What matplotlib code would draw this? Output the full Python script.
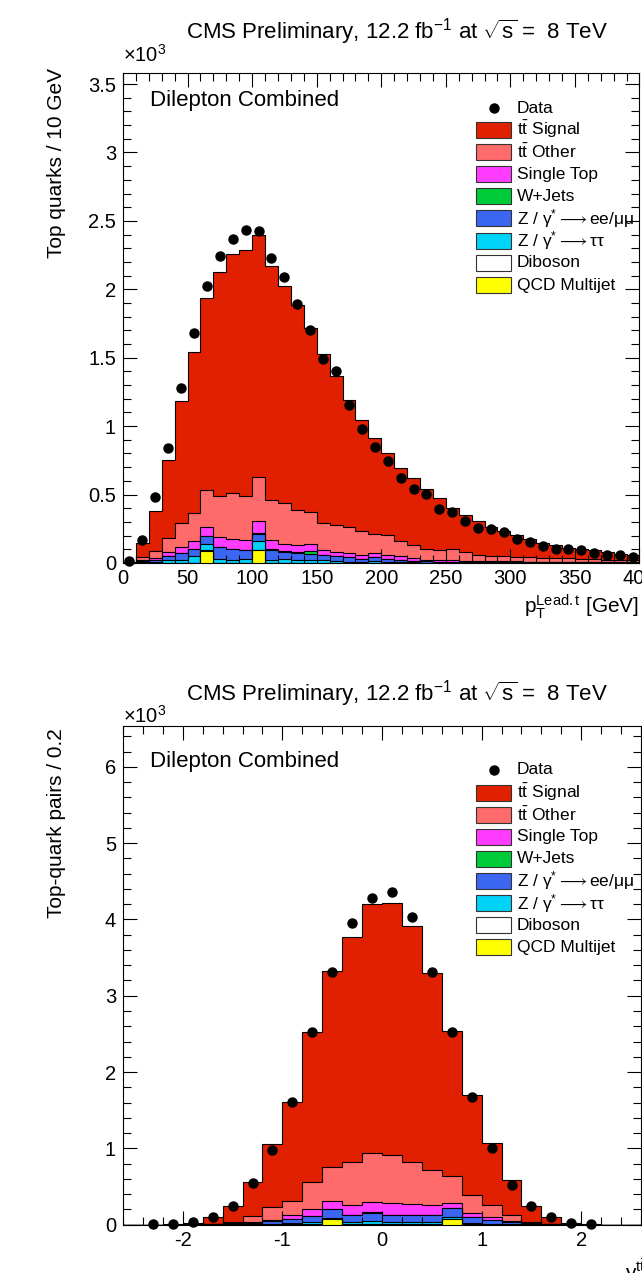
import numpy as np
import matplotlib
matplotlib.use('Agg')
import matplotlib.pyplot as plt
from matplotlib.patches import Rectangle
from matplotlib.ticker import MultipleLocator, FuncFormatter

plt.rcParams['font.family'] = ['Liberation Sans', 'DejaVu Sans']
plt.rcParams['mathtext.fontset'] = 'custom'
plt.rcParams['mathtext.rm'] = 'Liberation Sans'
plt.rcParams['mathtext.it'] = 'Liberation Sans:italic'
plt.rcParams['mathtext.bf'] = 'Liberation Sans:bold'
plt.rcParams['axes.unicode_minus'] = False

# ---- leading top pT, 10 GeV bins, values in units of 10^3 ----
pt_edges = np.arange(0, 410, 10)
pt_data = [0.017, 0.164, 0.480, 0.840, 1.280, 1.680, 2.024, 2.244, 2.366, 2.434,
           2.427, 2.232, 2.088, 1.890, 1.700, 1.490, 1.406, 1.152, 0.978, 0.848,
           0.743, 0.621, 0.543, 0.506, 0.394, 0.374, 0.303, 0.257, 0.245, 0.227,
           0.176, 0.154, 0.122, 0.103, 0.103, 0.093, 0.073, 0.059, 0.059, 0.044]
pt_signal = [0.003, 0.107, 0.287, 0.570, 0.896, 1.176, 1.404, 1.635, 1.748, 1.796,
             1.770, 1.709, 1.587, 1.496, 1.348, 1.237, 1.083, 0.926, 0.814, 0.701,
             0.604, 0.538, 0.487, 0.435, 0.382, 0.296, 0.274, 0.242, 0.216, 0.178,
             0.161, 0.134, 0.110, 0.098, 0.078, 0.076, 0.063, 0.054, 0.039, 0.034]
pt_ttother = [0.001, 0.015, 0.055, 0.102, 0.178, 0.206, 0.270, 0.297, 0.338, 0.325,
              0.323, 0.292, 0.295, 0.254, 0.237, 0.194, 0.197, 0.194, 0.174, 0.141,
              0.145, 0.109, 0.099, 0.081, 0.071, 0.081, 0.060, 0.046, 0.034, 0.042,
              0.032, 0.033, 0.029, 0.026, 0.025, 0.021, 0.021, 0.017, 0.017, 0.016]
pt_singletop = [0.000, 0.010, 0.013, 0.026, 0.043, 0.055, 0.064, 0.077, 0.070, 0.069,
                0.091, 0.067, 0.055, 0.055, 0.047, 0.039, 0.035, 0.028, 0.028, 0.030,
                0.028, 0.030, 0.021, 0.011, 0.015, 0.014, 0.011, 0.009, 0.007, 0.007,
                0.006, 0.005, 0.005, 0.005, 0.004, 0.004, 0.004, 0.003, 0.003, 0.003]
pt_wjets = [0.000, 0.000, 0.000, 0.000, 0.001, 0.001, 0.002, 0.002, 0.002, 0.002,
            0.002, 0.002, 0.002, 0.002, 0.020, 0.001, 0.001, 0.001, 0.001, 0.001,
            0.001, 0.000, 0.000, 0.000, 0.000, 0.000, 0.000, 0.000, 0.000, 0.000,
            0.000, 0.000, 0.000, 0.000, 0.000, 0.000, 0.000, 0.000, 0.000, 0.000]
pt_zll = [0.001, 0.010, 0.015, 0.030, 0.050, 0.055, 0.060, 0.085, 0.080, 0.065,
          0.056, 0.080, 0.055, 0.055, 0.050, 0.040, 0.035, 0.030, 0.020, 0.025,
          0.020, 0.015, 0.010, 0.008, 0.006, 0.005, 0.004, 0.004, 0.004, 0.003,
          0.003, 0.003, 0.003, 0.002, 0.002, 0.002, 0.002, 0.002, 0.002, 0.001]
pt_ztautau = [0.000, 0.003, 0.005, 0.020, 0.017, 0.045, 0.045, 0.025, 0.020, 0.025,
              0.060, 0.015, 0.025, 0.017, 0.015, 0.015, 0.010, 0.008, 0.006, 0.015,
              0.005, 0.004, 0.003, 0.002, 0.002, 0.001, 0.001, 0.001, 0.001, 0.001,
              0.001, 0.001, 0.001, 0.001, 0.001, 0.001, 0.001, 0.001, 0.001, 0.001]
pt_diboson = [0.000, 0.002, 0.002, 0.002, 0.002, 0.003, 0.003, 0.003, 0.003, 0.003,
              0.003, 0.003, 0.003, 0.003, 0.003, 0.003, 0.002, 0.002, 0.002, 0.002,
              0.002, 0.001, 0.001, 0.001, 0.001, 0.001, 0.001, 0.001, 0.001, 0.001,
              0.001, 0.001, 0.001, 0.001, 0.001, 0.001, 0.001, 0.001, 0.001, 0.001]
pt_qcd = [0.000, 0.000, 0.000, 0.000, 0.000, 0.000, 0.088, 0.000, 0.000, 0.000,
          0.095, 0.000, 0.000, 0.000, 0.000, 0.000, 0.000, 0.000, 0.000, 0.000,
          0.000, 0.000, 0.000, 0.000, 0.000, 0.000, 0.000, 0.000, 0.000, 0.000,
          0.000, 0.000, 0.000, 0.000, 0.000, 0.000, 0.000, 0.000, 0.000, 0.000]

# ---- ttbar rapidity, 0.2 bins, values in units of 10^3 ----
y_edges = np.round(np.arange(-2.6, 2.61, 0.2), 1)
nan = np.nan
y_data = [nan, 0.005, 0.005, 0.030, 0.100, 0.250, 0.540, 0.980, 1.610, 2.520,
          3.310, 3.950, 4.280, 4.360, 4.030, 3.310, 2.530, 1.670, 1.000, 0.520,
          0.240, 0.100, 0.020, 0.005, nan, nan]
y_signal = [0.000, 0.001, 0.002, 0.017, 0.092, 0.210, 0.450, 0.820, 1.300, 1.960,
            2.570, 2.950, 3.260, 3.300, 3.090, 2.590, 1.910, 1.320, 0.820, 0.460,
            0.210, 0.090, 0.017, 0.002, 0.001, 0.000]
y_ttother = [0.000, 0.000, 0.001, 0.002, 0.004, 0.020, 0.075, 0.165, 0.190, 0.355,
             0.440, 0.570, 0.650, 0.625, 0.550, 0.460, 0.345, 0.225, 0.150, 0.070,
             0.020, 0.005, 0.003, 0.001, 0.000, 0.000]
y_singletop = [0.000, 0.000, 0.000, 0.001, 0.002, 0.010, 0.011, 0.017, 0.047, 0.093,
               0.107, 0.122, 0.132, 0.162, 0.149, 0.122, 0.072, 0.058, 0.040, 0.020,
               0.010, 0.002, 0.001, 0.000, 0.000, 0.000]
y_wjets = [0.000, 0.000, 0.000, 0.000, 0.000, 0.000, 0.000, 0.005, 0.003, 0.002,
           0.002, 0.002, 0.002, 0.002, 0.002, 0.002, 0.002, 0.002, 0.001, 0.000,
           0.000, 0.000, 0.000, 0.000, 0.000, 0.000]
y_zll = [0.000, 0.000, 0.000, 0.000, 0.002, 0.008, 0.020, 0.035, 0.050, 0.080,
         0.110, 0.095, 0.110, 0.085, 0.088, 0.095, 0.110, 0.075, 0.050, 0.025,
         0.008, 0.003, 0.000, 0.000, 0.000, 0.000]
y_ztautau = [0.000, 0.000, 0.000, 0.000, 0.000, 0.002, 0.004, 0.008, 0.020, 0.030,
             0.015, 0.030, 0.045, 0.035, 0.030, 0.030, 0.025, 0.020, 0.010, 0.005,
             0.002, 0.000, 0.000, 0.000, 0.000, 0.000]
y_diboson = [0.000, 0.000, 0.000, 0.000, 0.000, 0.000, 0.001, 0.001, 0.002, 0.002,
             0.003, 0.003, 0.003, 0.003, 0.003, 0.003, 0.003, 0.002, 0.001, 0.001,
             0.000, 0.000, 0.000, 0.000, 0.000, 0.000]
y_qcd = [0.000, 0.000, 0.000, 0.000, 0.000, 0.000, 0.000, 0.000, 0.000, 0.000,
         0.075, 0.000, 0.000, 0.000, 0.000, 0.000, 0.075, 0.000, 0.000, 0.000,
         0.000, 0.000, 0.000, 0.000, 0.000, 0.000]

labels = ['$\\mathrm{t\\bar{t}}$ Signal', '$\\mathrm{t\\bar{t}}$ Other', 'Single Top',
          'W+Jets', 'Z / γ$^{*}\\longrightarrow$ee/μμ', 'Z / γ$^{*}\\longrightarrow$ττ',
          'Diboson', 'QCD Multijet']
colors = ['#e02000', '#ff6a6a', '#ff3cff', '#00cc3a', '#3a66f2', '#00d2f8', 'white', '#ffff00']

title = 'CMS Preliminary, 12.2 fb$^{-1}$ at $\\sqrt{\\mathrm{s}}$ =  8 TeV'


def draw_stack(ax, edges, comps):
    # cumulative from the bottom of the stack (QCD) up to the signal
    stack = np.cumsum(np.array(comps[::-1]), axis=0)[::-1]
    for vals, col in zip(stack, colors):
        ax.stairs(vals, edges, baseline=0, fill=True, facecolor=col,
                  edgecolor='black', linewidth=0.8)


def draw_legend(ax, first_px, sig_px, step_px):
    fig = ax.figure
    h_px = ax.get_position().height * fig.get_figheight() * fig.dpi
    w_px = ax.get_position().width * fig.get_figwidth() * fig.dpi
    bx = (476 - 123) / w_px
    bw = 35 / w_px
    bh = 16 / h_px
    tx = (517 - 123) / w_px
    yd = 1 - first_px / h_px
    ax.plot([bx + bw / 2], [yd], 'o', color='black', ms=6.5,
            transform=ax.transAxes, clip_on=False)
    ax.text(tx, yd, 'Data', transform=ax.transAxes, va='center', fontsize=12.5)
    for i, (lab, col) in enumerate(zip(labels, colors)):
        yc = 1 - (sig_px + i * step_px) / h_px
        ax.add_patch(Rectangle((bx, yc - bh / 2), bw, bh, transform=ax.transAxes,
                               facecolor=col, edgecolor='#333333', linewidth=0.8,
                               clip_on=False))
        ax.text(tx, yc, lab, transform=ax.transAxes, va='center', fontsize=12.5)


def style(ax, xmaj, xmin, ymaj, ymin):
    ax.xaxis.set_major_locator(MultipleLocator(xmaj))
    ax.xaxis.set_minor_locator(MultipleLocator(xmin))
    ax.yaxis.set_major_locator(MultipleLocator(ymaj))
    ax.yaxis.set_minor_locator(MultipleLocator(ymin))
    fmt = FuncFormatter(lambda v, p: f'{v:g}')
    ax.xaxis.set_major_formatter(fmt)
    ax.yaxis.set_major_formatter(fmt)
    ax.tick_params(which='both', direction='in', top=True, right=True,
                   labelsize=14.5, width=0.8)
    ax.tick_params(which='major', length=10)
    ax.tick_params(which='minor', length=5.5)
    ax.tick_params(axis='y', pad=5)
    ax.tick_params(axis='x', pad=4.5)
    for s in ax.spines.values():
        s.set_linewidth(0.8)


fig = plt.figure(figsize=(6.42, 12.73), dpi=100)

# ---------- top panel ----------
ax1 = fig.add_axes([0.1916, 0.5578, 0.8045, 0.3851])
draw_stack(ax1, pt_edges, [pt_signal, pt_ttother, pt_singletop, pt_wjets,
                           pt_zll, pt_ztautau, pt_diboson, pt_qcd])
pt_centers = (pt_edges[:-1] + pt_edges[1:]) / 2
ax1.plot(pt_centers, pt_data, 'o', color='black', ms=6.5, clip_on=False, zorder=5)
ax1.set_xlim(0, 400)
ax1.set_ylim(0, 3.583)
style(ax1, 50, 10, 0.5, 0.1)
ax1.set_ylabel('Top quarks / 10 GeV', fontsize=15, loc='top')
ax1.yaxis.set_label_coords(-0.111, 1.0096)
ax1.set_xlabel('$\\mathrm{p}_{\\mathrm{T}}^{\\mathrm{Lead.t}}$ [GeV]', fontsize=15, loc='right')
ax1.xaxis.set_label_coords(1.0, -0.059)
ax1.text(0.5305, 1.069, title, transform=ax1.transAxes, ha='center', va='baseline', fontsize=16)
ax1.text(0.0, 1.022, '×10$^{3}$', transform=ax1.transAxes, ha='left', va='baseline', fontsize=14.5)
ax1.text(0.052, 0.933, 'Dilepton Combined', transform=ax1.transAxes, va='baseline', fontsize=16)
draw_legend(ax1, 35.6, 57.0, 22.2)

# ---------- bottom panel ----------
ax2 = fig.add_axes([0.1916, 0.0380, 0.8069, 0.3917])
draw_stack(ax2, y_edges, [y_signal, y_ttother, y_singletop, y_wjets,
                          y_zll, y_ztautau, y_diboson, y_qcd])
y_centers = (y_edges[:-1] + y_edges[1:]) / 2
ax2.plot(y_centers, y_data, 'o', color='black', ms=6.5, clip_on=False, zorder=5)
ax2.set_xlim(-2.6, 2.6)
ax2.set_ylim(0, 6.535)
style(ax2, 1, 0.2, 1, 0.2)
ax2.set_ylabel('Top-quark pairs / 0.2', fontsize=15, loc='top')
ax2.yaxis.set_label_coords(-0.111, 0.996)
ax2.set_xlabel('$\\mathrm{y}^{\\mathrm{t\\bar{t}}}$', fontsize=15, loc='right')
ax2.xaxis.set_label_coords(1.01, -0.067)
ax2.text(0.529, 1.05, title, transform=ax2.transAxes, ha='center', va='baseline', fontsize=16)
ax2.text(0.0, 1.006, '×10$^{3}$', transform=ax2.transAxes, ha='left', va='baseline', fontsize=14.5)
ax2.text(0.052, 0.918, 'Dilepton Combined', transform=ax2.transAxes, va='baseline', fontsize=16)
draw_legend(ax2, 44.0, 66.8, 22.06)

fig.savefig('out.png', dpi=100)
